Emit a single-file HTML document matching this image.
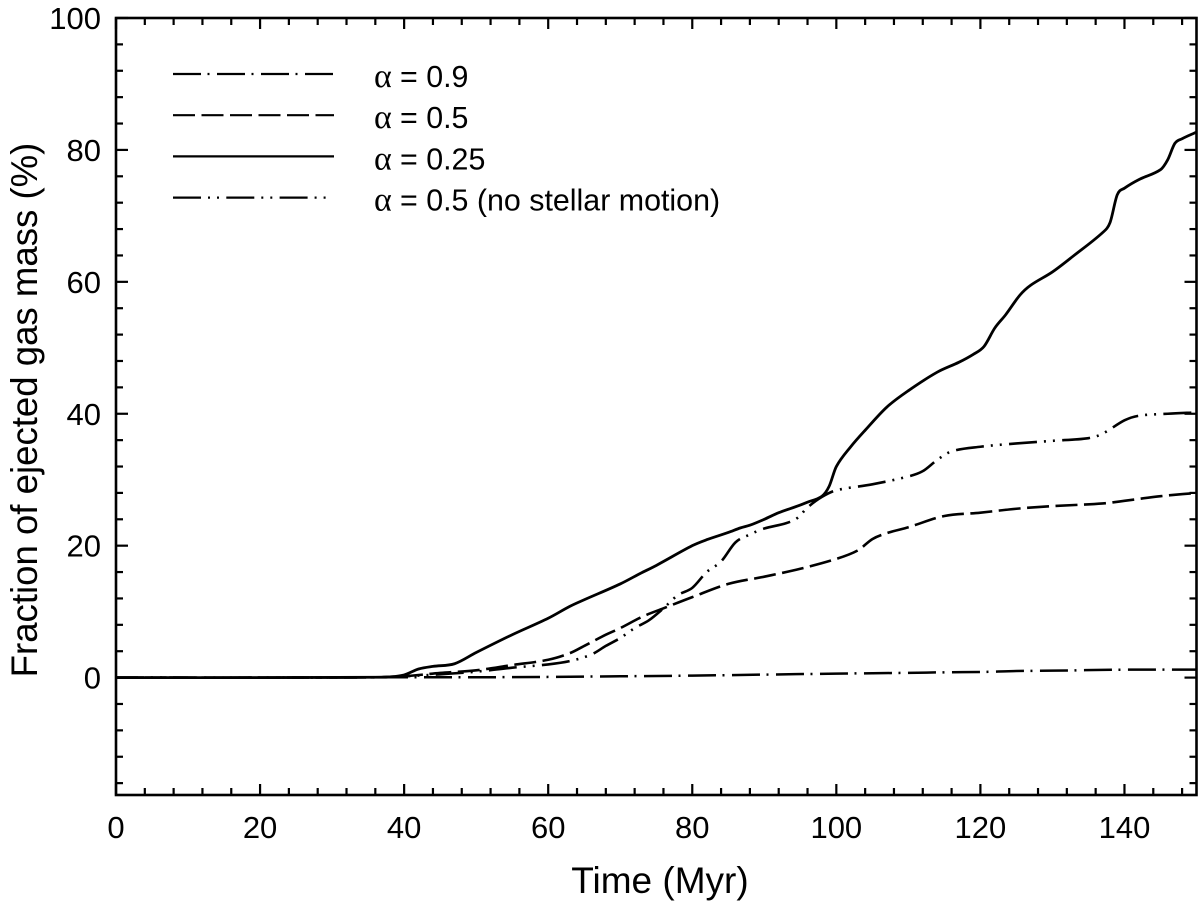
<!DOCTYPE html>
<html lang="en">
<head>
<meta charset="utf-8">
<title>Fraction of ejected gas mass over time</title>
<style>
html,body{margin:0;padding:0;background:#fff;}
svg{display:block;font-family:"Liberation Sans",Arial,sans-serif;fill:#000;}
</style>
</head>
<body>
<svg id="chart" xmlns="http://www.w3.org/2000/svg" width="1200" height="904" viewBox="0 0 1200 904"></svg>
<script>
const xTickLabels = [0, 20, 40, 60, 80, 100, 120, 140];
const yTickLabels = [0, 20, 40, 60, 80, 100];
const xTitle = "Time (Myr)";
const yTitle = "Fraction of ejected gas mass (%)";
const legendLabels = ["= 0.9", "= 0.5", "= 0.25", "= 0.5 (no stellar motion)"];

const timeAlpha09 = [0, 20, 40, 50, 60, 70, 80, 90, 100, 110, 115, 120, 125, 130, 140, 150];
const massAlpha09 = [0, 0, 0.05, 0.05, 0.1, 0.2, 0.3, 0.45, 0.6, 0.72, 0.8, 0.85, 1.0, 1.05, 1.2, 1.2];

const timeAlpha05 = [0, 20, 36, 40, 45, 50, 55, 60, 63, 65, 68, 70, 73, 76, 80, 85, 90, 95, 100, 103, 105, 107, 110, 115, 120, 125, 130, 137, 140, 145, 150];
const massAlpha05 = [0, 0, 0.05, 0.2, 0.7, 1.1, 1.9, 2.7, 3.7, 4.8, 6.5, 7.5, 9.2, 10.5, 12.2, 14.2, 15.3, 16.5, 18, 19.3, 21, 21.9, 22.8, 24.5, 25, 25.6, 26, 26.4, 26.8, 27.5, 28];

const timeAlpha025 = [0, 20, 36, 38, 40, 42, 44, 47, 50, 55, 60, 63, 65, 70, 72.8, 75, 80, 82, 85, 86.7, 88, 90, 92, 94.6, 96, 98, 99, 100, 102, 104, 107, 110, 114, 117, 119, 120.5, 122, 123.5, 125.5, 127, 130, 133, 137, 138, 139, 140, 142, 145, 146, 147, 148, 150];
const massAlpha025 = [0, 0, 0.05, 0.1, 0.4, 1.3, 1.7, 2.1, 3.8, 6.5, 9, 10.8, 11.8, 14.2, 15.8, 17, 20, 20.9, 22, 22.7, 23.1, 24, 25, 26, 26.6, 27.5, 29, 32, 35, 37.5, 41, 43.5, 46.3, 47.8, 49, 50.2, 53, 55, 58, 59.5, 61.5, 64, 67.5, 69, 73.2, 74.2, 75.5, 77, 78.5, 81, 81.7, 82.7];

const timeNoMotion = [0, 20, 36, 40, 45, 50, 55, 60, 63, 66, 68, 70, 72, 74, 76, 78, 80, 82, 84, 86, 88, 90, 93, 94.6, 96, 98, 100, 105, 110, 112, 114, 116, 120, 125, 130, 135, 137, 140, 142, 146, 150];
const massNoMotion = [0, 0, 0.05, 0.2, 0.5, 0.9, 1.5, 2, 2.5, 3.5, 4.8, 6, 7.5, 8.7, 10.5, 12.5, 13.6, 16, 17.6, 20.5, 21.7, 22.6, 23.4, 24.2, 25.8, 27.4, 28.4, 29.3, 30.5, 31.3, 33, 34.3, 35, 35.5, 35.9, 36.3, 37, 39, 39.7, 40, 40.2];

const svg = document.getElementById('chart');
const NS = 'http://www.w3.org/2000/svg';
const plotLeft = 116, plotRight = 1196.5, plotTop = 18, plotBottom = 795;
const xMin = 0, xMax = 150, yMax = 100, yMin = -17.8;
const xScale = v => plotLeft + (v - xMin) / (xMax - xMin) * (plotRight - plotLeft);
const yScale = v => plotTop + (yMax - v) / (yMax - yMin) * (plotBottom - plotTop);

function make(tag, attrs, parent) {
  const el = document.createElementNS(NS, tag);
  for (const k in attrs) el.setAttribute(k, attrs[k]);
  (parent || svg).appendChild(el);
  return el;
}

const ticksGroup = make('g', {stroke: '#000', 'stroke-width': 2.2});



function tick(x1, y1, x2, y2, name) {
  const t = make('line', {x1: x1, y1: y1, x2: x2, y2: y2}, ticksGroup);
  
  
}

for (let v = 0; v <= xMax; v += 4) {
  const major = v % 20 === 0;
  const len = major ? 11 : 7;
  const x = xScale(v);
  tick(x, plotBottom, x, plotBottom - len, 'x-tick-bottom');
  tick(x, plotTop, x, plotTop + len, 'x-tick-top');
}
for (let v = -16; v <= yMax; v += 4) {
  const major = v % 20 === 0;
  const len = major ? 12 : 7;
  const y = yScale(v);
  tick(plotLeft, y, plotLeft + len, y, 'y-tick-left');
  tick(plotRight, y, plotRight - len, y, 'y-tick-right');
}

xTickLabels.forEach(v => {
  const t = make('text', {x: xScale(v), y: 838, 'font-size': 31, 'text-anchor': 'middle'});
  
  
  t.textContent = v;
});
yTickLabels.forEach(v => {
  const t = make('text', {x: 101, y: yScale(v) + 11, 'font-size': 31, 'text-anchor': 'end'});
  
  
  t.textContent = v;
});

const xt = make('text', {x: 660, y: 893, 'font-size': 37, 'text-anchor': 'middle'});


xt.textContent = xTitle;

const yt = make('text', {x: 0, y: 0, 'font-size': 36.6, 'text-anchor': 'middle', transform: 'translate(37,410) rotate(-90)'});


yt.textContent = yTitle;

const dashStyles = ['28 6.5 2 7.5', '22 6.5', 'none', '28 7 2 7 2 7.3'];

function smoothPath(xs, ys) {
  const pts = xs.map((t, i) => [xScale(t), yScale(ys[i])]);
  let d = 'M' + pts[0][0].toFixed(2) + ' ' + pts[0][1].toFixed(2);
  for (let i = 0; i < pts.length - 1; i++) {
    const p0 = pts[Math.max(i - 1, 0)], p1 = pts[i], p2 = pts[i + 1], p3 = pts[Math.min(i + 2, pts.length - 1)];
    const h = p2[0] - p1[0];
    const s1 = (p2[1] - p0[1]) / (p2[0] - p0[0]);
    const s2 = (p3[1] - p1[1]) / (p3[0] - p1[0]);
    d += ' C' + (p1[0] + h / 3).toFixed(2) + ' ' + (p1[1] + s1 * h / 3).toFixed(2) + ' ' +
         (p2[0] - h / 3).toFixed(2) + ' ' + (p2[1] - s2 * h / 3).toFixed(2) + ' ' +
         p2[0].toFixed(2) + ' ' + p2[1].toFixed(2);
  }
  return d;
}
const curveAttrs = d => ({d: d, fill: 'none', stroke: '#000', 'stroke-linejoin': 'round'});

const s1 = make('path', Object.assign(curveAttrs(smoothPath(timeAlpha09, massAlpha09)), {'stroke-width': 2.5, 'stroke-dasharray': dashStyles[0]}));


const s2 = make('path', Object.assign(curveAttrs(smoothPath(timeAlpha05, massAlpha05)), {'stroke-width': 2.6, 'stroke-dasharray': dashStyles[1]}));


const s3 = make('path', Object.assign(curveAttrs(smoothPath(timeAlpha025, massAlpha025)), {'stroke-width': 2.8}));


const s4 = make('path', Object.assign(curveAttrs(smoothPath(timeNoMotion, massNoMotion)), {'stroke-width': 2.6, 'stroke-dasharray': dashStyles[3]}));



const legendGroup = make('g', {});


legendLabels.forEach((label, i) => {
  const y = 74 + i * 41.2;
  const l = make('line', {x1: 173, x2: i === 3 ? 328 : 334, y1: y, y2: y, stroke: '#000', 'stroke-width': 2.2}, legendGroup);
  if (dashStyles[i] !== 'none') l.setAttribute('stroke-dasharray', dashStyles[i]);
  
  
  const t = make('text', {x: 374, y: y + 13, 'font-size': 30.4}, legendGroup);
  
  
  const a = make('tspan', {'font-family': '"Liberation Serif", serif', 'font-size': 34}, t);
  a.textContent = 'α';
  const rest = make('tspan', {x: 400}, t);
  rest.textContent = label;
});

const frame = make('rect', {x: plotLeft, y: plotTop, width: plotRight - plotLeft, height: plotBottom - plotTop, fill: 'none', stroke: '#000', 'stroke-width': 2.6});


</script>
</body>
</html>
